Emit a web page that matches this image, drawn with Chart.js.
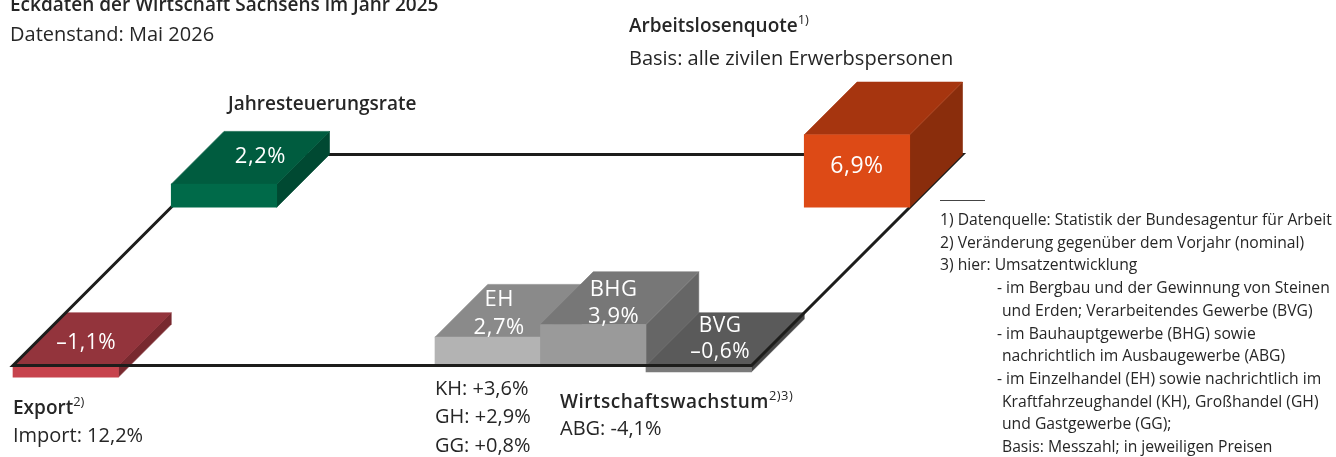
<!DOCTYPE html>
<html lang="de">
<head>
<meta charset="utf-8">
<title>Eckdaten der Wirtschaft Sachsens im Jahr 2025</title>
<script src="https://cdn.jsdelivr.net/npm/chart.js@4.4.1/dist/chart.umd.min.js"></script>
<style>
  html, body { margin: 0; padding: 0; background: #fff; }
  body { width: 1336px; height: 457px; position: relative; overflow: hidden;
         font-family: "Open Sans", sans-serif; color: #262626; }
  #chart { position: absolute; left: 0; top: 0; }
  .t { position: absolute; white-space: nowrap; line-height: 1; font-size: 20px; }
  .b { font-weight: 600; font-size: 19px; }
  sup { font-size: 0.68em; font-weight: 400; vertical-align: 0.62em; line-height: 0; }
  .fn { position: absolute; left: 940px; top: 208px; font-size: 15.7px; line-height: 22.7px; white-space: nowrap; }
  .fn .i1 { padding-left: 57px; }
  .fn .i2 { padding-left: 62px; }
  .rule { position: absolute; left: 940px; top: 200px; width: 45px; height: 1px; background: #444; }
</style>
</head>
<body>
<canvas id="chart" width="1336" height="457"></canvas>

<div class="t b" style="left:10px; top:-5px;">Eckdaten der Wirtschaft Sachsens im Jahr 2025</div>
<div class="t" style="left:10px; top:24px;">Datenstand: Mai 2026</div>

<div class="t b" style="left:228px; top:94px;">Jahresteuerungsrate</div>

<div class="t b" style="left:629px; top:16px;">Arbeitslosenquote<sup>1)</sup></div>
<div class="t" style="left:629px; top:48px;">Basis: alle zivilen Erwerbspersonen</div>

<div class="t b" style="left:13px; top:398px;">Export<sup>2)</sup></div>
<div class="t" style="left:13px; top:425px;">Import: 12,2%</div>

<div class="t" style="left:435px; top:378px;">KH: +3,6%</div>
<div class="t" style="left:435px; top:406px;">GH: +2,9%</div>
<div class="t" style="left:435px; top:435px;">GG: +0,8%</div>

<div class="t b" style="left:560px; top:392px; letter-spacing:0.5px;">Wirtschaftswachstum<sup>2)3)</sup></div>
<div class="t" style="left:560px; top:418px;">ABG: -4,1%</div>

<div class="rule"></div>
<div class="fn">
  <div>1) Datenquelle: Statistik der Bundesagentur für Arbeit</div>
  <div>2) Veränderung gegenüber dem Vorjahr (nominal)</div>
  <div>3) hier: Umsatzentwicklung</div>
  <div class="i1">- im Bergbau und der Gewinnung von Steinen</div>
  <div class="i2">und Erden; Verarbeitendes Gewerbe (BVG)</div>
  <div class="i1">- im Bauhauptgewerbe (BHG) sowie</div>
  <div class="i2">nachrichtlich im Ausbaugewerbe (ABG)</div>
  <div class="i1">- im Einzelhandel (EH) sowie nachrichtlich im</div>
  <div class="i2">Kraftfahrzeughandel (KH), Großhandel (GH)</div>
  <div class="i2">und Gastgewerbe (GG);</div>
  <div class="i2">Basis: Messzahl; in jeweiligen Preisen</div>
</div>

<script>
// Rasterspalten der Grundfläche (vorne 7 Felder)
const columns = ['1', '2', '3', '4', '5', '6', '7'];

// Kennzahlen (in %)
const blockNames  = ['Export', 'Einzelhandel', 'Bauhauptgewerbe', 'Verarbeitendes Gewerbe', 'Jahresteuerungsrate', 'Arbeitslosenquote'];
const blockTags   = ['', 'EH', 'BHG', 'BVG', '', ''];
const blockValues = [-1.1, 2.7, 3.9, -0.6, 2.2, 6.9];

// Platzierung auf der Grundfläche: Spalte und Tiefe (in Blocktiefen)
const blockColumn = [0, 4, 5, 6, 0, 6];
const blockRow    = [0, 0, 0, 0, 3, 3];

// Farben: Vorderseite, Oberseite, Seite
const faceFront = ['#c7434d', '#b3b3b3', '#9a9a9a', '#7a7a7a', '#006a49', '#dd4a16'];
const faceTop   = ['#93343c', '#8a8a8a', '#777777', '#5a5a5a', '#005c3f', '#a6350f'];
const faceSide  = ['#78292f', '#6e6e6e', '#666666', '#474747', '#004932', '#8a2d0c'];

// Beschriftung: Fläche, Versatz, Schriftgröße
const labelFace   = ['top', 'top', 'top', 'top', 'top', 'front'];
const labelShift  = [[-6, 4], [-15, 3], [-6, 5], [-5, 0], [10, -1], [0, -5]];
const labelSize   = [21, 22, 22, 21, 22, 23];

function fmt(v) {
  const s = Math.abs(v).toFixed(1).replace('.', ',') + '%';
  return v < 0 ? '\u2013' + s : s;
}

const blocks3d = {
  id: 'blocks3d',
  beforeDatasetsDraw(chart) {
    const ctx = chart.ctx;
    const xs = chart.scales.x, ys = chart.scales.y;
    const colW = xs.getPixelForValue(1) - xs.getPixelForValue(0);
    const d = colW / 2;

    const poly = (pts, color) => {
      ctx.beginPath();
      ctx.moveTo(pts[0][0], pts[0][1]);
      pts.slice(1).forEach(p => ctx.lineTo(p[0], p[1]));
      ctx.closePath();
      ctx.fillStyle = color;
      ctx.strokeStyle = color;
      ctx.lineWidth = 0.6;
      ctx.fill();
      ctx.stroke();
    };

    const drawBlock = i => {
      const bar = chart.getDatasetMeta(i).data[blockColumn[i]];
      const p = bar.getProps(['x', 'y', 'base', 'width'], true);
      const s = blockRow[i] * d;
      const l = p.x - p.width / 2 + s, r = p.x + p.width / 2 + s;
      const top = Math.min(p.y, p.base) - s, bot = Math.max(p.y, p.base) - s;
      poly([[r, top], [r + d, top - d], [r + d, bot - d], [r, bot]], faceSide[i]);
      poly([[l, top], [r, top], [r + d, top - d], [l + d, top - d]], faceTop[i]);
      ctx.save();
      ctx.translate(s, -s);
      bar.draw(ctx);
      ctx.restore();

      let cx, cy;
      if (labelFace[i] === 'top') { cx = (l + r) / 2 + d / 2; cy = top - d / 2; }
      else { cx = (l + r) / 2; cy = (top + bot) / 2; }
      cx += labelShift[i][0]; cy += labelShift[i][1];
      const fs = labelSize[i];
      ctx.save();
      ctx.fillStyle = '#ffffff';
      ctx.textAlign = 'center';
      ctx.textBaseline = 'middle';
      ctx.font = '500 ' + fs + 'px "Open Sans", sans-serif';
      ctx.letterSpacing = '0.5px';
      if (blockTags[i]) {
        ctx.fillText(blockTags[i], cx, cy - fs * 0.62);
        ctx.fillText(fmt(blockValues[i]), cx, cy + fs * 0.62);
      } else {
        ctx.fillText(fmt(blockValues[i]), cx, cy);
      }
      ctx.restore();
    };

    // vordere Reihe
    blockNames.forEach((n, i) => { if (blockRow[i] === 0) drawBlock(i); });

    // Grundfläche (Parallelogramm)
    const x0 = xs.getPixelForValue(0) - colW / 2;
    const x1 = xs.getPixelForValue(columns.length - 1) + colW / 2;
    const y0 = ys.getPixelForValue(0);
    const D = 4 * d;
    ctx.beginPath();
    ctx.moveTo(x0, y0);
    ctx.lineTo(x1, y0);
    ctx.lineTo(x1 + D, y0 - D);
    ctx.lineTo(x0 + D, y0 - D);
    ctx.closePath();
    ctx.strokeStyle = '#1d1d1b';
    ctx.lineWidth = 3;
    ctx.lineJoin = 'miter';
    ctx.stroke();

    // hintere Reihe
    blockNames.forEach((n, i) => { if (blockRow[i] > 0) drawBlock(i); });
    return false;
  }
};

new Chart(document.getElementById('chart'), {
  type: 'bar',
  data: {
    labels: columns,
    datasets: blockNames.map((name, i) => ({
      label: name,
      data: columns.map((c, k) => (k === blockColumn[i] ? blockValues[i] : null)),
      backgroundColor: faceFront[i],
      borderWidth: 0,
      grouped: false,
      barPercentage: 1,
      categoryPercentage: 1
    }))
  },
  options: {
    responsive: false,
    animation: false,
    devicePixelRatio: 1,
    layout: { padding: { left: 13, right: 584.5, top: 281.5, bottom: 70.5 } },
    plugins: { legend: { display: false }, tooltip: { enabled: false } },
    scales: {
      x: { display: false },
      y: { display: false, min: -2, max: 8 }
    }
  },
  plugins: [blocks3d]
});
</script>
</body>
</html>
